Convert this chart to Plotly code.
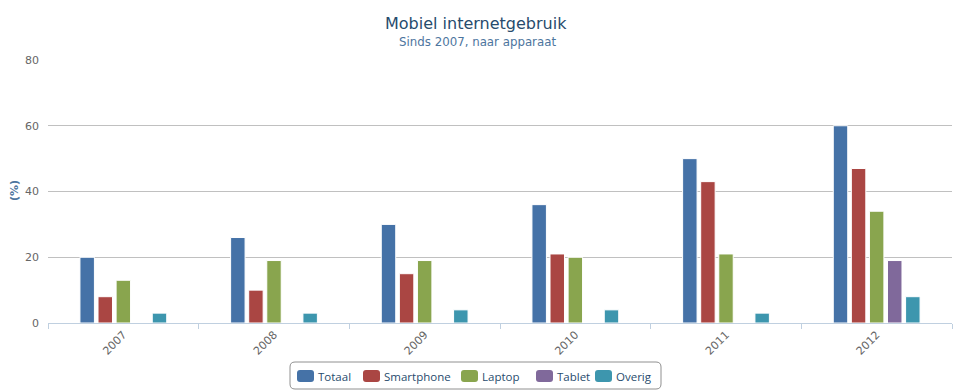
import plotly.graph_objects as go

years = ["2007", "2008", "2009", "2010", "2011", "2012"]
totaal = [20, 26, 30, 36, 50, 60]
smartphone = [8, 10, 15, 21, 43, 47]
laptop = [13, 19, 19, 20, 21, 34]
tablet = [None, None, None, None, None, 19]
overig = [3, 3, 4, 4, 3, 8]

names = ["Totaal", "Smartphone", "Laptop", "Tablet", "Overig"]
values = [totaal, smartphone, laptop, tablet, overig]
colors = ["#4572A7", "#AA4643", "#89A54E", "#80699B", "#3D96AE"]

FONT = "DejaVu Sans"
LFONT = "Open Sans"
fig = go.Figure()
for name, vals, col in zip(names, values, colors):
    fig.add_trace(go.Bar(
        name=name, x=years, y=vals, marker_color=col,
        marker_line_color="white", marker_line_width=1, showlegend=False,
    ))

W, H = 967, 390
ml, mr, mt, mb = 48, 15, 60, 67
PH = H - mt - mb
PW = W - ml - mr


def px_(p):
    return (p - ml) / PW


def py(p):
    return (H - mb - p) / PH


def rounded_rect(x0, y0, x1, y1, r):
    X = px_
    Y = py
    return (f"M{X(x0 + r)},{Y(y0)} L{X(x1 - r)},{Y(y0)} Q{X(x1)},{Y(y0)} {X(x1)},{Y(y0 + r)} "
            f"L{X(x1)},{Y(y1 - r)} Q{X(x1)},{Y(y1)} {X(x1 - r)},{Y(y1)} "
            f"L{X(x0 + r)},{Y(y1)} Q{X(x0)},{Y(y1)} {X(x0)},{Y(y1 - r)} "
            f"L{X(x0)},{Y(y0 + r)} Q{X(x0)},{Y(y0)} {X(x0 + r)},{Y(y0)} Z")


fig.update_layout(
    width=W, height=H,
    margin=dict(l=ml, r=mr, t=mt, b=mb, autoexpand=False),
    paper_bgcolor="white", plot_bgcolor="white",
    font=dict(family=FONT, size=11, color="#666666"),
    barmode="group", bargap=0.4, bargroupgap=0.2,
    showlegend=False,
)

fig.add_annotation(text="Mobiel internetgebruik", x=px_(476), xref="paper", xanchor="center",
                   y=py(24), yref="paper", yanchor="middle", showarrow=False,
                   font=dict(family=FONT, size=16, color="#274b6d"))
fig.add_annotation(text="Sinds 2007, naar apparaat", x=px_(477), xref="paper", xanchor="center",
                   y=py(42), yref="paper", yanchor="middle", showarrow=False,
                   font=dict(family=FONT, size=11.8, color="#4d759e"))
fig.add_annotation(text="<b>(%)</b>", x=px_(14), xref="paper", xanchor="center",
                   y=py(191), yref="paper", yanchor="middle", showarrow=False, textangle=-90,
                   font=dict(family=FONT, size=11, color="#4d759e"))

# custom legend (rounded box, rounded swatches)
fig.add_shape(type="path", xref="paper", yref="paper",
              path=rounded_rect(290, 362, 661, 389, 5),
              line=dict(color="#909090", width=1), fillcolor="white", layer="above")
sym_x = [297, 363, 461, 536, 595]
for name, col, sx in zip(names, colors, sym_x):
    fig.add_shape(type="path", xref="paper", yref="paper",
                  path=rounded_rect(sx, 370, sx + 17, 382, 3),
                  line=dict(color=col, width=0), fillcolor=col, layer="above")
    fig.add_annotation(text=name, x=px_(sx + 20), xref="paper", xanchor="left",
                       y=py(376), yref="paper", yanchor="middle", showarrow=False,
                       borderpad=0,
                       font=dict(family=LFONT, size=11.5, color="#274b6d"))

fig.update_yaxes(range=[0, 80], dtick=20, showgrid=True, gridcolor="#C0C0C0", gridwidth=1,
                 zeroline=False, showline=False, ticks="", ticklabelstandoff=8,
                 automargin=False, tickfont=dict(size=11, color="#666666"))
fig.update_xaxes(showgrid=False, showline=True, linecolor="#C0D0E0", linewidth=1,
                 ticks="outside", tickson="boundaries", ticklen=5, tickcolor="#C0D0E0",
                 tickangle=-45, automargin=False, tickfont=dict(size=11, color="#666666"))

fig.write_html("out.html", config={"displayModeBar": False},
               post_script="document.body.style.margin='0';document.body.style.overflow='hidden';")
